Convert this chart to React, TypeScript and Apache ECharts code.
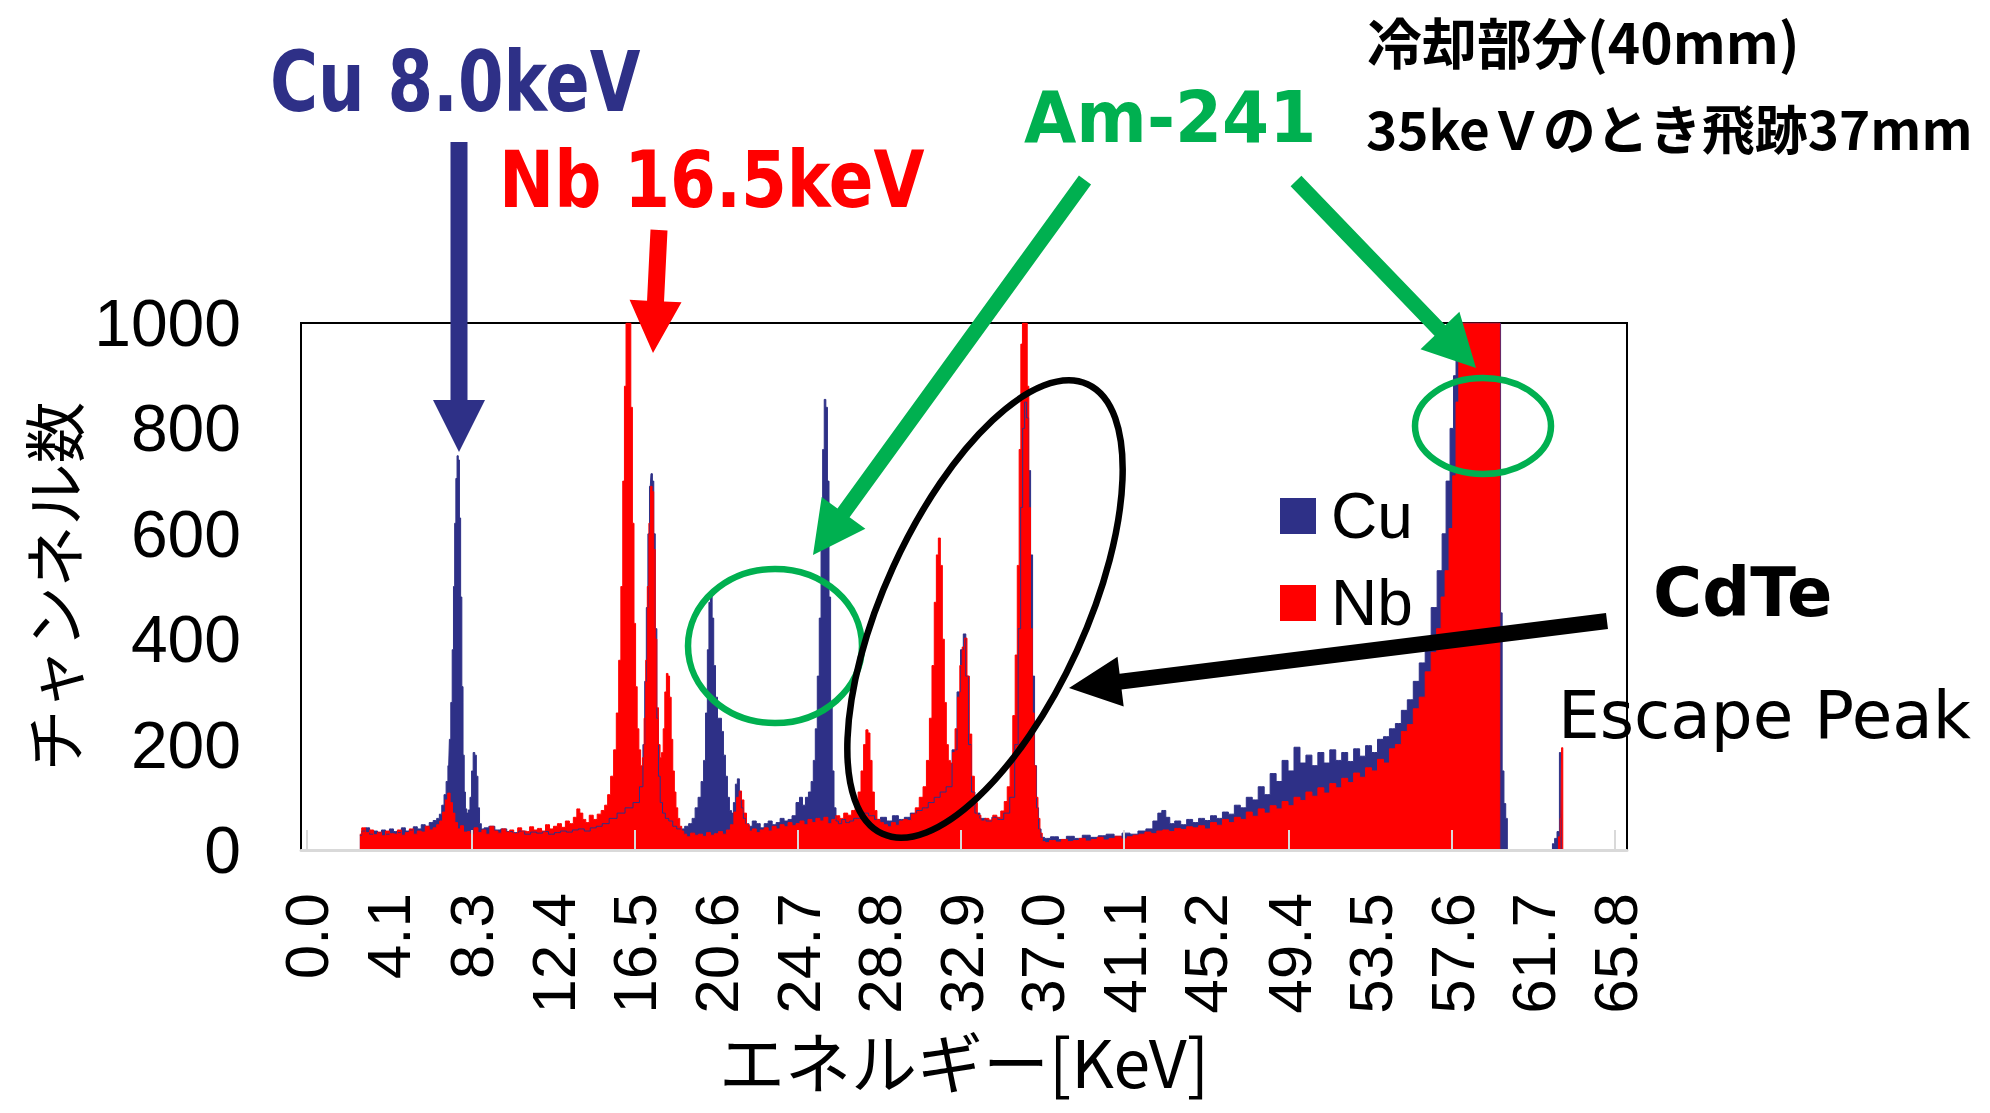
import React, { useEffect, useRef } from "react";
import * as echarts from "echarts";

const CU_COLOR = "#2E3087";
const NB_COLOR = "#FF0000";
const GREEN = "#00B050";

const xTickLabels = ["0.0", "4.1", "8.3", "12.4", "16.5", "20.6", "24.7", "28.8", "32.9", "37.0", "41.1", "45.2", "49.4", "53.5", "57.6", "61.7", "65.8"];
const xTickMarks = ["0.0", "8.3", "16.5", "24.7", "32.9", "41.1", "49.4", "57.6", "65.8"];
const yTickMax = 1000;
const yTickStep = 200;

// ---- Cu spectrum (energy axis units, counts) ----
const cuLow = [[2.66, 28], [2.85, 36], [3.05, 42], [3.25, 30], [3.45, 36], [3.65, 33], [3.85, 38], [4.05, 30], [4.25, 40], [4.45, 35], [4.65, 33], [4.85, 42], [5.05, 36], [5.25, 38], [5.45, 44], [5.65, 40], [5.85, 48], [6.05, 45], [6.25, 52], [6.45, 56]];
const cuPeak8 = [[6.6, 60], [6.72, 68], [6.84, 85], [6.95, 105], [7.05, 130], [7.13, 160], [7.2, 210], [7.27, 280], [7.34, 380], [7.4, 500], [7.46, 620], [7.52, 705], [7.58, 748], [7.64, 740], [7.7, 630], [7.76, 480], [7.82, 310], [7.88, 180], [7.94, 110], [8.0, 78], [8.08, 70], [8.16, 76], [8.24, 100], [8.32, 150], [8.4, 185], [8.48, 180], [8.56, 140], [8.64, 80], [8.72, 50], [8.82, 40]];
const cuBackground = [[9.0, 42], [9.3, 45], [9.6, 38], [9.9, 40], [10.2, 35], [10.5, 33], [10.8, 36], [11.1, 30], [11.4, 34], [11.7, 32], [12.0, 35], [12.3, 30], [12.6, 33], [12.9, 36], [13.2, 34], [13.5, 38], [13.8, 40], [14.1, 36], [14.4, 42], [14.7, 45], [15.0, 50], [15.4, 60], [15.8, 70], [16.2, 80], [16.6, 90]];
const cuPeak17 = [[16.85, 120], [16.95, 200], [17.03, 320], [17.11, 460], [17.19, 600], [17.27, 690], [17.34, 714], [17.41, 700], [17.48, 600], [17.56, 420], [17.64, 250], [17.72, 140], [17.82, 90], [17.95, 70], [18.1, 60], [18.3, 55], [18.5, 45], [18.7, 40]];
const cuPeak20 = [[18.9, 40], [19.1, 45], [19.3, 50], [19.45, 60], [19.6, 80], [19.75, 100], [19.9, 130], [20.0, 170], [20.1, 260], [20.18, 380], [20.26, 470], [20.34, 482], [20.42, 440], [20.5, 350], [20.6, 290], [20.7, 250], [20.8, 250], [20.9, 225], [21.0, 180], [21.1, 140], [21.2, 100], [21.3, 75], [21.4, 70], [21.5, 90], [21.6, 125], [21.7, 135], [21.8, 110], [21.9, 80], [22.0, 60], [22.15, 50], [22.3, 45], [22.5, 55], [22.7, 50], [22.9, 42], [23.1, 50], [23.3, 55], [23.5, 48], [23.7, 52], [23.9, 60], [24.1, 55]];
const cuPeak26 = [[24.3, 58], [24.5, 65], [24.7, 90], [24.85, 100], [25.0, 85], [25.15, 100], [25.3, 110], [25.42, 130], [25.52, 170], [25.62, 230], [25.72, 330], [25.82, 440], [25.9, 600], [25.98, 760], [26.06, 855], [26.14, 840], [26.22, 700], [26.3, 480], [26.38, 280], [26.46, 150], [26.56, 80], [26.66, 55], [26.8, 50], [27.0, 58], [27.2, 52], [27.4, 55], [27.6, 60]];
const cuEscape = [[27.8, 60], [28.1, 70], [28.4, 65], [28.7, 58], [29.0, 62], [29.3, 55], [29.6, 65], [29.9, 58], [30.2, 62], [30.5, 70], [30.8, 75], [31.1, 80], [31.4, 90], [31.7, 100], [32.0, 110], [32.3, 120], [32.6, 190], [32.8, 300], [32.95, 380], [33.08, 410], [33.2, 330], [33.35, 200], [33.5, 110], [33.7, 70], [34.0, 60], [34.3, 55], [34.6, 62], [34.9, 58], [35.2, 70], [35.5, 100], [35.7, 200], [35.85, 420], [35.95, 650], [36.05, 800], [36.15, 850], [36.25, 820], [36.35, 720], [36.45, 560], [36.55, 330], [36.65, 160], [36.75, 80], [36.85, 40], [37.0, 24]];
const cuTail = [[37.2, 22], [37.6, 25], [38.0, 20], [38.4, 26], [38.8, 22], [39.2, 28], [39.6, 24], [40.0, 27], [40.4, 30], [40.8, 26], [41.2, 32], [41.6, 30], [42.0, 36], [42.4, 40], [42.7, 55], [42.9, 70], [43.1, 75], [43.3, 62], [43.5, 50], [43.8, 55], [44.1, 48], [44.4, 58], [44.7, 52], [45.0, 60], [45.3, 56], [45.6, 65], [45.9, 60], [46.2, 72], [46.5, 68], [46.8, 85], [47.1, 80], [47.4, 100], [47.7, 95], [48.0, 120], [48.3, 105], [48.6, 145], [48.9, 130], [49.2, 170], [49.5, 150], [49.8, 195], [50.1, 165], [50.4, 180], [50.7, 160], [51.0, 185], [51.3, 165], [51.6, 190], [51.9, 170], [52.2, 185], [52.5, 168], [52.8, 192], [53.1, 178], [53.4, 198], [53.7, 185], [54.0, 210], [54.3, 215], [54.6, 230], [54.9, 240], [55.2, 265], [55.5, 285], [55.8, 320], [56.1, 355], [56.4, 400], [56.7, 460], [57.0, 530], [57.2, 600], [57.4, 700], [57.6, 800], [57.75, 900], [57.85, 1000], [59.0, 1000], [60.0, 1000], [60.08, 450], [60.16, 150], [60.26, 88], [60.34, 60], [60.42, 0], [62.6, 0], [62.7, 12], [62.82, 22], [62.94, 35], [63.06, 185], [63.12, 0], [65.8, 0]];

// ---- Nb spectrum ----
const nbLow = [[2.66, 30], [2.85, 42], [3.05, 33], [3.25, 38], [3.45, 29], [3.65, 34], [3.85, 27], [4.05, 36], [4.25, 31], [4.45, 30], [4.65, 38], [4.85, 28], [5.05, 33], [5.25, 40], [5.45, 30], [5.65, 36], [5.85, 34], [6.05, 45], [6.25, 38], [6.45, 42], [6.6, 48], [6.75, 55], [6.9, 72], [7.02, 95], [7.14, 108], [7.26, 90], [7.38, 70], [7.5, 52], [7.65, 40], [7.8, 46], [7.95, 34], [8.1, 35], [8.3, 30], [8.5, 42], [8.7, 33], [8.9, 38], [9.1, 30], [9.3, 45], [9.5, 36], [9.7, 32], [9.9, 40], [10.1, 34], [10.3, 38], [10.5, 31], [10.7, 42], [10.9, 36], [11.1, 35], [11.3, 44], [11.5, 38], [11.7, 41], [11.9, 36], [12.1, 48], [12.3, 40], [12.5, 45], [12.7, 50], [12.9, 43], [13.1, 55], [13.3, 50], [13.5, 62], [13.65, 78], [13.8, 70], [13.95, 58], [14.1, 52], [14.3, 66], [14.5, 58], [14.7, 68], [14.9, 75]];
const nbKPeaks = [[15.05, 85], [15.2, 105], [15.35, 140], [15.5, 190], [15.62, 260], [15.74, 360], [15.84, 500], [15.93, 700], [16.01, 880], [16.09, 1000], [16.17, 1000], [16.25, 1000], [16.33, 840], [16.41, 620], [16.49, 430], [16.57, 310], [16.65, 230], [16.74, 190], [16.83, 160], [16.92, 175], [17.0, 250], [17.08, 360], [17.16, 500], [17.24, 620], [17.32, 690], [17.4, 680], [17.48, 570], [17.56, 400], [17.64, 270], [17.72, 200], [17.8, 175], [17.88, 185], [17.96, 230], [18.04, 300], [18.12, 335], [18.2, 330], [18.28, 290], [18.36, 210], [18.44, 150], [18.52, 110], [18.6, 80], [18.7, 60], [18.8, 45], [18.9, 36]];
const nbMid = [[19.0, 30], [19.2, 25], [19.4, 32], [19.6, 28], [19.8, 30], [20.0, 26], [20.2, 33], [20.4, 28], [20.6, 31], [20.8, 35], [21.0, 30], [21.2, 38], [21.4, 48], [21.55, 72], [21.68, 100], [21.8, 112], [21.92, 95], [22.04, 70], [22.18, 48], [22.32, 36], [22.5, 40], [22.7, 33], [22.9, 38], [23.1, 42], [23.3, 36], [23.5, 45], [23.7, 40], [23.9, 48], [24.1, 44], [24.3, 52], [24.5, 46], [24.7, 50], [24.9, 55], [25.1, 48], [25.3, 58], [25.5, 52], [25.7, 60], [25.9, 55], [26.1, 62], [26.3, 50], [26.5, 58], [26.7, 65], [26.9, 60], [27.1, 70], [27.3, 66], [27.5, 75], [27.65, 90]];
const nbEscape = [[27.8, 110], [27.94, 150], [28.06, 200], [28.17, 228], [28.27, 222], [28.37, 170], [28.48, 110], [28.6, 75], [28.74, 58], [28.9, 52], [29.1, 48], [29.3, 44], [29.5, 52], [29.7, 47], [29.9, 55], [30.1, 58], [30.3, 56], [30.5, 68], [30.7, 80], [30.9, 100], [31.08, 120], [31.24, 170], [31.38, 250], [31.5, 350], [31.61, 470], [31.71, 560], [31.81, 592], [31.91, 540], [32.01, 400], [32.11, 280], [32.21, 200], [32.31, 170], [32.42, 165], [32.54, 185], [32.66, 230], [32.78, 290], [32.9, 350], [33.02, 385], [33.14, 402], [33.26, 330], [33.38, 220], [33.5, 140], [33.64, 90], [33.8, 66], [34.0, 55], [34.2, 60], [34.4, 57], [34.6, 66], [34.8, 62], [35.0, 74], [35.15, 92], [35.3, 120], [35.44, 175], [35.57, 255], [35.68, 370], [35.78, 540], [35.87, 760], [35.95, 960], [36.03, 1000], [36.11, 1000], [36.19, 1000], [36.27, 880], [36.35, 650], [36.44, 420], [36.53, 260], [36.62, 160], [36.72, 100], [36.82, 60], [36.92, 32], [37.05, 16]];
const nbTail = [[37.2, 14], [37.5, 18], [37.8, 15], [38.1, 20], [38.4, 16], [38.7, 18], [39.0, 22], [39.3, 17], [39.6, 20], [39.9, 24], [40.2, 19], [40.5, 22], [40.8, 26], [41.1, 21], [41.4, 25], [41.7, 28], [42.0, 30], [42.3, 34], [42.6, 31], [42.9, 36], [43.2, 38], [43.5, 35], [43.8, 41], [44.1, 39], [44.4, 44], [44.7, 42], [45.0, 46], [45.3, 40], [45.6, 52], [45.9, 47], [46.2, 58], [46.5, 52], [46.8, 62], [47.1, 58], [47.4, 72], [47.7, 64], [48.0, 78], [48.3, 70], [48.6, 84], [48.9, 78], [49.2, 92], [49.5, 84], [49.8, 100], [50.1, 94], [50.4, 110], [50.7, 102], [51.0, 118], [51.3, 108], [51.6, 126], [51.9, 118], [52.2, 136], [52.5, 128], [52.8, 146], [53.1, 138], [53.4, 156], [53.7, 150], [54.0, 172], [54.3, 165], [54.6, 192], [54.9, 200], [55.2, 225], [55.5, 238], [55.8, 268], [56.1, 290], [56.4, 338], [56.7, 375], [56.95, 420], [57.15, 480], [57.35, 530], [57.55, 610], [57.72, 710], [57.88, 850], [58.0, 1000], [59.0, 1000], [59.95, 1000], [60.05, 0], [62.9, 0], [63.0, 25], [63.08, 60], [63.14, 194], [63.2, 0], [65.8, 0]];

const cuData = [...cuLow, ...cuPeak8, ...cuBackground, ...cuPeak17, ...cuPeak20, ...cuPeak26, ...cuEscape, ...cuTail];
const nbData = [...nbLow, ...nbKPeaks, ...nbMid, ...nbEscape, ...nbTail];

function arrowPoints(x1: number, y1: number, x2: number, y2: number, w: number, L: number, H: number) {
  const dx = x2 - x1, dy = y2 - y1;
  const len = Math.hypot(dx, dy);
  const ux = dx / len, uy = dy / len;
  const nx = -uy, ny = ux;
  const bx = x2 - ux * L, by = y2 - uy * L;
  return [
    [x1 + nx * w, y1 + ny * w],
    [bx + nx * w, by + ny * w],
    [bx + nx * H, by + ny * H],
    [x2, y2],
    [bx - nx * H, by - ny * H],
    [bx - nx * w, by - ny * w],
    [x1 - nx * w, y1 - ny * w],
  ];
}

function textEl(text: string, x: number, y: number, size: number, color: string, family: string, weight: string, scaleX = 1) {
  return {
    type: "text",
    x,
    y,
    scaleX,
    z: 100,
    silent: true,
    style: {
      text,
      fill: color,
      fontSize: size,
      fontFamily: family,
      fontWeight: weight,
      align: "left",
      verticalAlign: "middle",
      textAlign: "left",
      textVerticalAlign: "middle",
    },
  };
}

function arrowEl(pts: number[][], color: string) {
  return { type: "polygon", z: 100, silent: true, shape: { points: pts }, style: { fill: color } };
}

export default function App() {
  const ref = useRef<HTMLDivElement>(null);
  useEffect(() => {
    if (!ref.current) return;
    const chart = echarts.init(ref.current, undefined, { renderer: "svg" });
    const option = {
      animation: false,
      backgroundColor: "#ffffff",
      grid: { left: 301, right: 363, top: 323, bottom: 263, show: true, borderColor: "#000000", borderWidth: 2, backgroundColor: "transparent" },
      legend: {
        orient: "vertical",
        left: 1275,
        top: 476,
        icon: "rect",
        itemWidth: 36,
        itemHeight: 36,
        itemGap: 17,
        selectedMode: false,
        data: ["Cu", "Nb"],
        textStyle: { fontSize: 64, fontFamily: "Liberation Sans", color: "#000000", lineHeight: 70, padding: [0, 0, 0, 10] },
      },
      xAxis: {
        type: "value",
        min: -0.3,
        max: 66.4,
        z: 3,
        axisLine: { show: true, onZero: false, lineStyle: { color: "#D9D9D9", width: 3 } },
        axisTick: { show: true, inside: true, length: 20, lineStyle: { color: "#D9D9D9", width: 2 }, customValues: xTickMarks.map(Number) },
        axisLabel: {
          rotate: 90,
          margin: 43,
          fontSize: 62,
          fontFamily: "Liberation Sans",
          color: "#000000",
          customValues: xTickLabels.map(Number),
          formatter: (v: number) => v.toFixed(1),
        },
        splitLine: { show: false },
        name: "エネルギー[KeV]",
        nameLocation: "middle",
        nameGap: 176,
        nameTextStyle: { fontSize: 66, lineHeight: 66, fontFamily: "Noto Sans CJK JP", color: "#000000" },
      },
      yAxis: {
        type: "value",
        min: 0,
        max: yTickMax,
        interval: yTickStep,
        axisLine: { show: false },
        axisTick: { show: false },
        splitLine: { show: false },
        axisLabel: { fontSize: 66, fontFamily: "Liberation Sans", color: "#000000", margin: 60, formatter: (v: number) => String(v) },
        name: "チャンネル数",
        nameLocation: "middle",
        nameGap: 206,
        nameTextStyle: { fontSize: 62, fontFamily: "Noto Sans CJK JP", color: "#000000" },
      },
      series: [
        {
          type: "line",
          name: "Cu",
          data: cuData,
          step: "middle",
          symbol: "none",
          silent: true,
          color: CU_COLOR,
          lineStyle: { color: CU_COLOR, width: 1 },
          itemStyle: { color: CU_COLOR },
          areaStyle: { color: CU_COLOR, opacity: 1 },
          z: 2,
        },
        {
          type: "line",
          name: "Nb",
          data: nbData,
          step: "middle",
          symbol: "none",
          silent: true,
          color: NB_COLOR,
          lineStyle: { color: NB_COLOR, width: 1 },
          itemStyle: { color: NB_COLOR },
          areaStyle: { color: NB_COLOR, opacity: 1 },
          z: 2,
        },
      ],
      graphic: {
        elements: [
          textEl("Cu 8.0keV", 270, 82, 84, CU_COLOR, "DejaVu Sans", "bold", 0.78),
          textEl("Nb 16.5keV", 499, 180, 78, NB_COLOR, "DejaVu Sans", "bold", 0.845),
          textEl("Am-241", 1024, 117, 72, GREEN, "DejaVu Sans", "bold", 0.94),
          textEl("冷却部分(40mm)", 1367, 40, 55, "#000000", "Noto Sans CJK JP", "bold"),
          textEl("35keＶのとき飛跡37mm", 1366, 127, 53, "#000000", "Noto Sans CJK JP", "bold"),
          textEl("CdTe", 1653, 593, 67, "#000000", "DejaVu Sans", "bold"),
          textEl("Escape Peak", 1558, 715, 66, "#000000", "DejaVu Sans", "normal"),
          arrowEl(arrowPoints(459, 142, 459, 452, 8.5, 52, 26), CU_COLOR),
          arrowEl(arrowPoints(659, 230, 653, 353, 8.5, 52, 26), NB_COLOR),
          arrowEl(arrowPoints(1085, 180, 813, 555, 7.5, 52, 27), GREEN),
          arrowEl(arrowPoints(1296, 181, 1476, 368, 7.5, 52, 27), GREEN),
          arrowEl(arrowPoints(1607, 621, 1069, 688, 8, 52, 25), "#000000"),
          {
            type: "ellipse", z: 100, silent: true,
            shape: { cx: 775, cy: 646, rx: 87, ry: 77 },
            style: { fill: "none", stroke: GREEN, lineWidth: 6.5 },
          },
          {
            type: "ellipse", z: 100, silent: true,
            shape: { cx: 1483, cy: 426, rx: 68, ry: 48 },
            style: { fill: "none", stroke: GREEN, lineWidth: 6.5 },
          },
          {
            type: "ellipse", z: 100, silent: true,
            x: 985, y: 609, rotation: -0.4276,
            shape: { cx: 0, cy: 0, rx: 101, ry: 247 },
            style: { fill: "none", stroke: "#000000", lineWidth: 6.5 },
          },
        ],
      },
    };
    chart.setOption(option as any);
    return () => chart.dispose();
  }, []);
  return <div ref={ref} style={{ position: "absolute", left: 0, top: 0, width: 1990, height: 1113 }} />;
}
